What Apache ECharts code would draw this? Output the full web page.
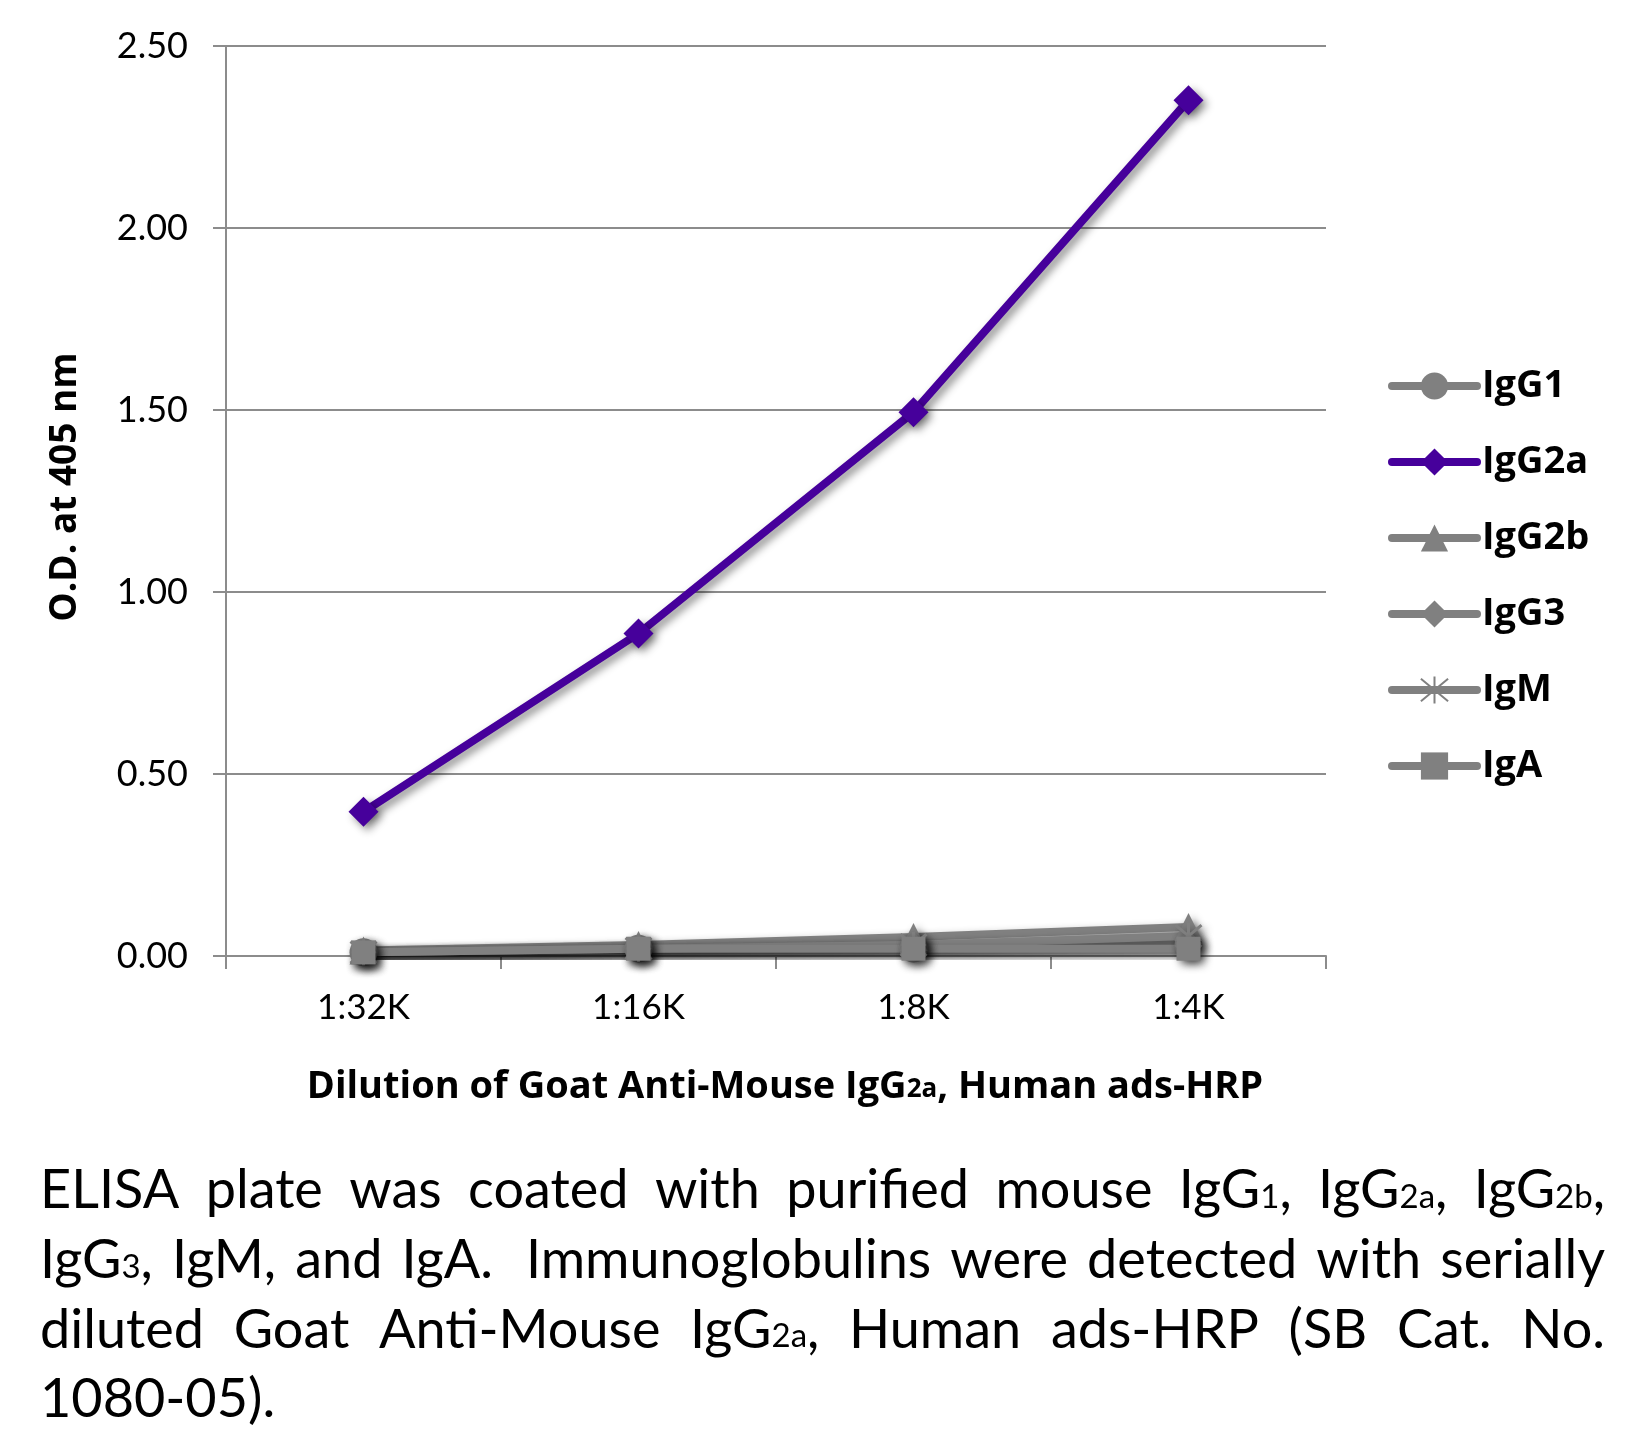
<!DOCTYPE html>
<html><head><meta charset="utf-8">
<script src="https://cdn.jsdelivr.net/npm/echarts@6/dist/echarts.min.js"></script>
<style>html,body{margin:0;padding:0;background:#fff}#c{width:1636px;height:1431px}</style>
</head><body><div id="c"></div>
<script>
// ---------- data ----------
const categories = ['1:32K', '1:16K', '1:8K', '1:4K'];
const seriesNames = ['IgG1', 'IgG2a', 'IgG2b', 'IgG3', 'IgM', 'IgA'];
const valIgG1  = [0.010, 0.020, 0.020, 0.030];
const valIgG2a = [0.396, 0.886, 1.494, 2.351];
const valIgG2b = [0.015, 0.030, 0.052, 0.080];
const valIgG3  = [0.010, 0.020, 0.030, 0.035];
const valIgM   = [0.010, 0.020, 0.030, 0.055];
const valIgA   = [0.010, 0.020, 0.020, 0.020];
const yMin = 0, yMax = 2.5, yInterval = 0.5;
const yTitle = 'O.D. at 405 nm';
const xTitleParts = [['Dilution of Goat Anti-Mouse IgG', 0], ['2a', 1], [', Human ads-HRP', 0]];
// caption: each line = list of words, each word = list of [text, small]
const captionLines = [
  [[['ELISA',0]],[['plate',0]],[['was',0]],[['coated',0]],[['with',0]],[['purified',0]],[['mouse',0]],
   [['IgG',0],['1',1],[',',0]],[['IgG',0],['2a',1],[',',0]],[['IgG',0],['2b',1],[',',0]]],
  [[['IgG',0],['3',1],[',',0]],[['IgM,',0]],[['and',0]],[['IgA. ',0]],[['Immunoglobulins',0]],[['were',0]],
   [['detected',0]],[['with',0]],[['serially',0]]],
  [[['diluted',0]],[['Goat',0]],[['Anti-Mouse',0]],[['IgG',0],['2a',1],[',',0]],[['Human',0]],[['ads-HRP',0]],
   [['(SB',0]],[['Cat.',0]],[['No.',0]]],
  [[['1080-05).',0]]]
];
const captionJustify = [true, true, true, false];

// ---------- styles ----------
const FONT = 'Lato, "Open Sans", sans-serif';
const BFONT = '"Open Sans", Lato, sans-serif';
const GRAY = '#808080';
const PURPLE = '#46009B';
const shadow = {shadowColor:'rgba(0,0,0,0.45)', shadowBlur:8, shadowOffsetX:4, shadowOffsetY:4};

const chart = echarts.init(document.getElementById('c'));

function mkSeries(name, data, color, symbol, symbolSize, extraItem) {
  return {
    name, type:'line', data, symbol, symbolSize,
    lineStyle:Object.assign({color, width:8, cap:'round', join:'round'}, shadow),
    itemStyle:Object.assign({color}, shadow, extraItem || {}),
    emphasis:{disabled:true}, animation:false, z: name === 'IgG2a' ? 3 : 2
  };
}
const asterisk = 'path://M0,0L10,10M10,0L0,10M5,-1L5,11';

// caption graphics
const capSize = 54, capSmall = 33;
const capLeft = 40, capRight = 1605, capY0 = 1188, capStep = 69.6;
const cv = document.createElement('canvas').getContext('2d');
function measure(t, small) {
  cv.font = (small ? capSmall : capSize) + 'px ' + FONT;
  return cv.measureText(t).width;
}
const graphics = [];
captionLines.forEach((line, li) => {
  const widths = line.map(w => w.reduce((s, seg) => s + measure(seg[0], seg[1]), 0));
  const total = widths.reduce((a, b) => a + b, 0);
  const spaceW = measure(' ', 0);
  let gap = captionJustify[li] && line.length > 1 ? (capRight - capLeft - total) / (line.length - 1) : spaceW;
  let x = capLeft;
  line.forEach((w, wi) => {
    graphics.push({
      type:'text', x, y: capY0 + li * capStep, silent:true,
      style:{
        text: w.map(seg => '{' + (seg[1] ? 's' : 'n') + '|' + seg[0] + '}').join(''),
        verticalAlign:'middle', align:'left',
        rich:{
          n:{fontSize:capSize, fontFamily:FONT, fill:'#000', verticalAlign:'bottom', lineHeight:60},
          s:{fontSize:capSmall, fontFamily:FONT, fill:'#000', verticalAlign:'bottom', lineHeight:60, padding:[0,0,4,0]}
        }
      }
    });
    x += widths[wi] + gap;
  });
});
// axis titles
graphics.push({
  type:'text', x:65, y:487, rotation:Math.PI/2, silent:true,
  style:{text:yTitle, fontSize:37, fontWeight:'bold', fontFamily:BFONT, fill:'#000', align:'center', verticalAlign:'middle'}
});
graphics.push({
  type:'text', x:785, y:1083, silent:true,
  style:{
    text: xTitleParts.map(p => '{' + (p[1] ? 's' : 'b') + '|' + p[0] + '}').join(''),
    align:'center', verticalAlign:'middle',
    rich:{
      b:{fontSize:38, fontWeight:'bold', fontFamily:BFONT, fill:'#000', verticalAlign:'bottom', lineHeight:46},
      s:{fontSize:26, fontWeight:'bold', fontFamily:BFONT, fill:'#000', verticalAlign:'bottom', lineHeight:46, padding:[0,0,3,0]}
    }
  }
});

const option = {
  backgroundColor:'#fff',
  animation:false,
  grid:{left:226, right:310, top:46, bottom:475, containLabel:false},
  xAxis:{
    type:'category', data:categories, boundaryGap:true,
    axisLine:{show:true, lineStyle:{color:'#8c8c8c', width:2}},
    axisTick:{show:true, length:13, lineStyle:{color:'#8c8c8c', width:2}},
    axisLabel:{fontSize:35, fontFamily:FONT, color:'#000', margin:34},
    splitLine:{show:false}
  },
  yAxis:{
    type:'value', min:yMin, max:yMax, interval:yInterval,
    axisLine:{show:true, lineStyle:{color:'#8c8c8c', width:2}},
    axisTick:{show:true, length:13, lineStyle:{color:'#8c8c8c', width:2}},
    axisLabel:{fontSize:36, fontFamily:FONT, color:'#000', margin:38, formatter:v => v.toFixed(2)},
    splitLine:{show:true, lineStyle:{color:'#8c8c8c', width:2}}
  },
  legend:{
    orient:'vertical', left:1388, top:365, padding:0, itemWidth:85, itemHeight:34, itemGap:34,
    textStyle:{fontSize:38, fontWeight:'bold', fontFamily:BFONT, color:'#000', lineHeight:42},
    itemStyle:{shadowBlur:0, shadowOffsetX:0, shadowOffsetY:0},
    lineStyle:{width:8, cap:'round', shadowBlur:0, shadowOffsetX:0, shadowOffsetY:0},
    data:seriesNames, selectedMode:false
  },
  series:[
    mkSeries('IgG1', valIgG1, GRAY, 'circle', 28),
    mkSeries('IgG2a', valIgG2a, PURPLE, 'diamond', [30, 30]),
    mkSeries('IgG2b', valIgG2b, GRAY, 'triangle', 28),
    mkSeries('IgG3', valIgG3, GRAY, 'diamond', [26, 26]),
    mkSeries('IgM', valIgM, GRAY, asterisk, 26, {borderColor:GRAY, borderWidth:3}),
    mkSeries('IgA', valIgA, GRAY, 'rect', 24)
  ],
  graphic:graphics
};
chart.setOption(option);
</script>
</body></html>
